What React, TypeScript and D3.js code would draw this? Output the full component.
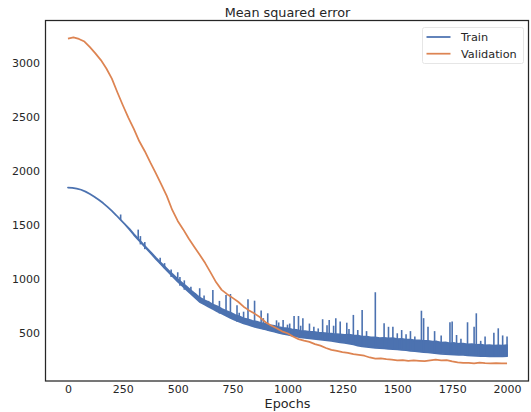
import React, { useEffect, useRef } from 'react';
import * as d3 from 'd3';

// Train loss: the noisy curve read as a band (lower / upper edge, every 20 epochs)
// plus the isolated spikes above it.
const bandStep = 20;
const trainLow = [
  1850, 1847, 1840, 1829, 1812, 1790, 1765, 1737, 1706, 1671,
  1633, 1593, 1551, 1508, 1461, 1412, 1367, 1323, 1279, 1234,
  1189, 1146, 1103, 1061, 1020, 978, 941, 903, 866, 828,
  790, 768, 745, 724, 703, 683, 662, 642, 623, 607,
  591, 579, 566, 555, 545, 535, 524, 514, 504, 495,
  487, 478, 470, 462, 457, 452, 447, 443, 439, 434,
  430, 423, 416, 410, 404, 396, 386, 379, 374, 370,
  365, 362, 359, 356, 353, 350, 346, 343, 338, 334,
  329, 325, 322, 318, 314, 310, 307, 305, 303, 301,
  299, 296, 293, 291, 289, 288, 287, 286, 285, 286,
  288,
];
const trainHigh = [
  1850, 1847, 1840, 1829, 1812, 1790, 1765, 1737, 1706, 1671,
  1633, 1593, 1551, 1508, 1467, 1418, 1375, 1331, 1287, 1244,
  1201, 1160, 1119, 1079, 1040, 1002, 967, 933, 898, 864,
  830, 808, 790, 766, 750, 727, 708, 692, 671, 658,
  639, 630, 616, 608, 595, 588, 576, 569, 558, 551,
  546, 536, 532, 522, 520, 512, 512, 505, 504, 498,
  497, 491, 490, 486, 488, 480, 478, 469, 470, 462,
  462, 456, 458, 452, 455, 446, 448, 441, 442, 434,
  435, 429, 430, 422, 424, 414, 415, 407, 410, 403,
  404, 398, 399, 393, 394, 388, 390, 386, 388, 386,
  390,
];
const trainSpikes = [
  [240, 1600], [320, 1460], [330, 1400], [350, 1345], [420, 1200], [440, 1150],
  [470, 1090], [500, 1065], [510, 1020], [530, 990], [560, 930], [580, 870],
  [600, 917], [620, 850], [640, 800], [660, 900], [690, 800], [720, 855],
  [740, 864], [770, 760], [780, 690], [800, 700], [820, 815], [850, 802],
  [880, 710], [890, 640], [910, 685], [950, 620], [960, 600], [980, 623],
  [1000, 580], [1010, 590], [1030, 660], [1050, 660], [1060, 570], [1070, 640],
  [1100, 590], [1120, 560], [1140, 545], [1160, 630], [1180, 575], [1190, 623],
  [1210, 570], [1220, 640], [1240, 610], [1270, 598], [1280, 540], [1300, 670],
  [1320, 530], [1340, 716], [1360, 520], [1400, 880], [1440, 593], [1460, 560],
  [1480, 561], [1500, 500], [1520, 530], [1540, 490], [1560, 520], [1580, 470],
  [1610, 709], [1620, 640], [1640, 561], [1670, 520], [1700, 480], [1740, 602],
  [1750, 608], [1770, 484], [1790, 450], [1820, 602], [1850, 561], [1860, 685],
  [1880, 430], [1900, 470], [1940, 505], [1960, 546], [1980, 480], [2000, 469],
];

// Validation loss, sampled every 25 epochs (0..2000)
const valStep = 25;
const valLoss = [
  3228, 3240, 3226, 3202, 3150, 3092, 3030, 2952, 2858, 2732,
  2612, 2498, 2392, 2278, 2186, 2082, 1984, 1880, 1772, 1642,
  1540, 1462, 1378, 1302, 1228, 1150, 1062, 972, 902, 862,
  828, 792, 746, 712, 682, 648, 602, 572, 546, 518,
  500, 470, 446, 432, 420, 400, 386, 364, 346, 336,
  326, 318, 306, 300, 292, 276, 266, 268, 260, 255,
  250, 251, 245, 248, 245, 242, 250, 255, 250, 252,
  240, 231, 225, 226, 222, 228, 223, 222, 223, 222,
  222,
];

const xTicks = [0, 250, 500, 750, 1000, 1250, 1500, 1750, 2000];
const yTicks = [500, 1000, 1500, 2000, 2500, 3000];
const seriesNames = ['Train', 'Validation'];
const seriesColors = ['#4C72B0', '#DD8452'];

const W = 531;
const H = 412;
const margin = { top: 21, right: 2, bottom: 31, left: 46 };
const font = 'DejaVu Sans, sans-serif';
const ink = '#262626';
const lw = 1.75;

const App = () => {
  const svgRef = useRef<SVGSVGElement>(null);

  useEffect(() => {
    const svg = d3.select(svgRef.current);
    svg.selectAll('*').remove();

    const x = d3.scaleLinear().domain([-100, 2100]).range([margin.left, W - margin.right]);
    const y = d3.scaleLinear().domain([58, 3392]).range([H - margin.bottom, margin.top]);

    // train: band + spikes
    const band = trainLow.map((v, i) => ({ e: i * bandStep, lo: v, hi: trainHigh[i] }));
    const area = d3.area<{ e: number; lo: number; hi: number }>()
      .x(d => x(d.e))
      .y0(d => y(d.lo))
      .y1(d => y(d.hi));
    const train = svg.append('g');
    train.append('path')
      .attr('d', area(band))
      .attr('fill', seriesColors[0])
      .attr('stroke', seriesColors[0])
      .attr('stroke-width', lw)
      .attr('stroke-linejoin', 'round');
    train.selectAll('line')
      .data(trainSpikes)
      .join('line')
      .attr('x1', d => x(d[0]))
      .attr('x2', d => x(d[0]))
      .attr('y1', d => y(d[1]))
      .attr('y2', d => y(trainLow[Math.round(d[0] / bandStep)]))
      .attr('stroke', seriesColors[0])
      .attr('stroke-width', 1.6);

    const line = d3.line<number>().x((d, i) => x(i * valStep)).y(d => y(d));
    svg.append('path')
      .attr('d', line(valLoss))
      .attr('fill', 'none')
      .attr('stroke', seriesColors[1])
      .attr('stroke-width', lw)
      .attr('stroke-linejoin', 'round');

    // axes without tick marks (seaborn white style)
    const xAxis = svg.append('g')
      .attr('transform', `translate(0,${H - margin.bottom})`)
      .call(d3.axisBottom(x).tickValues(xTicks).tickSize(0).tickPadding(4).tickFormat(d3.format('d')));
    const yAxis = svg.append('g')
      .attr('transform', `translate(${margin.left},0)`)
      .call(d3.axisLeft(y).tickValues(yTicks).tickSize(0).tickPadding(6).tickFormat(d3.format('d')));
    [xAxis, yAxis].forEach(a => {
      a.select('.domain').remove();
      a.selectAll('text').attr('font-family', font).attr('font-size', 11).attr('fill', ink);
    });

    svg.append('rect')
      .attr('x', margin.left - 0.5)
      .attr('y', margin.top - 0.5)
      .attr('width', W - margin.left - margin.right)
      .attr('height', H - margin.top - margin.bottom + 0.5)
      .attr('fill', 'none')
      .attr('stroke', ink)
      .attr('stroke-width', 1.25);

    svg.append('text')
      .attr('x', (margin.left + W - margin.right) / 2)
      .attr('y', 16.5)
      .attr('text-anchor', 'middle')
      .attr('font-family', font)
      .attr('font-size', 12.8)
      .attr('fill', ink)
      .text('Mean squared error');

    svg.append('text')
      .attr('x', (margin.left + W - margin.right) / 2)
      .attr('y', 407.5)
      .attr('text-anchor', 'middle')
      .attr('font-family', font)
      .attr('font-size', 12.8)
      .attr('fill', ink)
      .text('Epochs');

    // legend
    const lg = svg.append('g').attr('transform', 'translate(422.5,27.5)');
    lg.append('rect')
      .attr('width', 101)
      .attr('height', 36)
      .attr('rx', 2)
      .attr('fill', 'white')
      .attr('fill-opacity', 0.8)
      .attr('stroke', '#e6e6e6')
      .attr('stroke-width', 1);
    const items = lg.selectAll('g.item')
      .data(seriesNames)
      .join('g')
      .attr('class', 'item')
      .attr('transform', (d, i) => `translate(0,${9.5 + i * 16.7})`);
    items.append('line')
      .attr('x1', 4).attr('x2', 28)
      .attr('stroke', (d, i) => seriesColors[i])
      .attr('stroke-width', lw);
    items.append('text')
      .attr('x', 38.5)
      .attr('y', 4)
      .attr('font-family', font)
      .attr('font-size', 11.3)
      .attr('fill', ink)
      .text(d => d);
  }, []);

  return (
    <svg ref={svgRef} width={W} height={H}
      style={{ position: 'absolute', left: 0, top: 0, background: 'white' }} />
  );
};

export default App;
